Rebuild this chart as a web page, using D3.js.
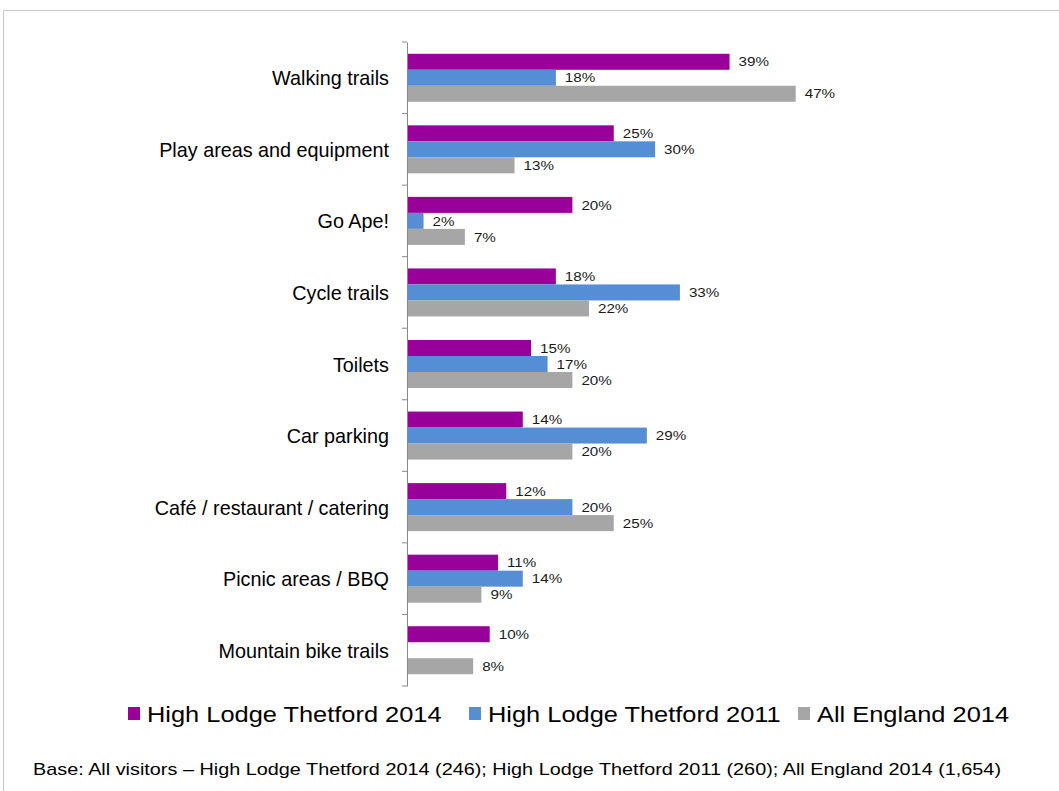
<!DOCTYPE html>
<html>
<head>
<meta charset="utf-8">
<script src="https://cdn.jsdelivr.net/npm/d3@7"></script>
<style>
  body { margin: 0; background: #fff; }
  svg { display: block; font-family: "Liberation Sans", Arial, sans-serif; }
</style>
</head>
<body>
<svg id="chart" width="1059" height="791"></svg>
<script>
// Facilities used by visitors, by survey
const categories = [
  "Walking trails",
  "Play areas and equipment",
  "Go Ape!",
  "Cycle trails",
  "Toilets",
  "Car parking",
  "Café / restaurant / catering",
  "Picnic areas / BBQ",
  "Mountain bike trails"
];
const seriesNames = ["High Lodge Thetford 2014", "High Lodge Thetford 2011", "All England 2014"];
const highLodge2014 = [39, 25, 20, 18, 15, 14, 12, 11, 10];
const highLodge2011 = [18, 30, 2, 33, 17, 29, 20, 14, null];
const allEngland2014 = [47, 13, 7, 22, 20, 20, 25, 9, 8];
const seriesColors = ["#990099", "#558ED5", "#A6A6A6"];
const footnote = "Base: All visitors \u2013 High Lodge Thetford 2014 (246); High Lodge Thetford 2011 (260); All England 2014 (1,654)";

const seriesValues = [highLodge2014, highLodge2011, allEngland2014];

const svg = d3.select("#chart");

// outer frame (top and left edges visible)
svg.append("path")
  .attr("d", "M3.5,791 V10.5 H1059")
  .attr("fill", "none")
  .attr("stroke", "#c8c8c8")
  .attr("stroke-width", 1);

const x0 = 407;
const x = d3.scaleLinear().domain([0, 50]).range([x0, x0 + 50 * 8.27]);

const y = d3.scaleBand().domain(categories).range([42, 686]).padding(0);
const groupH = 48;
const ySub = d3.scaleBand().domain(seriesNames).range([0, groupH]).padding(0);

const groups = svg.append("g").selectAll("g")
  .data(categories)
  .join("g")
  .attr("transform", d => `translate(0,${y(d) + (y.bandwidth() - groupH) / 2})`);

groups.each(function (cat, ci) {
  const g = d3.select(this);
  const rows = seriesNames.map((s, si) => ({ s, si, v: seriesValues[si][ci] }))
    .filter(r => r.v != null);
  g.selectAll("rect")
    .data(rows)
    .join("rect")
    .attr("x", x(0))
    .attr("y", r => ySub(r.s))
    .attr("width", r => x(r.v) - x(0))
    .attr("height", ySub.bandwidth())
    .attr("fill", r => seriesColors[r.si]);
  g.selectAll("text")
    .data(rows)
    .join("text")
    .attr("transform", r => `translate(${x(r.v) + 9},${ySub(r.s) + ySub.bandwidth() / 2}) scale(1.17,1)`)
    .attr("dy", "0.36em")
    .attr("font-size", 13)
    .attr("fill", "#1a1a1a")
    .text(r => r.v + "%");
});

// category axis
const axis = svg.append("g")
  .attr("transform", `translate(${x0},0)`)
  .call(d3.axisLeft(y).tickSize(0).tickPadding(18));
axis.select(".domain").attr("stroke", "#898989");
axis.selectAll("text")
  .attr("font-size", 19.8)
  .attr("dy", "0.38em")
  .attr("font-family", "Liberation Sans, Arial, sans-serif")
  .attr("fill", "#000");

// tick marks at category boundaries
const bounds = categories.map(c => y(c)).concat([y.range()[1]]);
svg.append("g").selectAll("line")
  .data(bounds)
  .join("line")
  .attr("x1", x0 - 5).attr("x2", x0)
  .attr("y1", d => d).attr("y2", d => d)
  .attr("stroke", "#898989");

// legend
const legendX = [128, 469, 798];
const legend = svg.append("g").selectAll("g")
  .data(seriesNames)
  .join("g")
  .attr("transform", (d, i) => `translate(${legendX[i]},714)`);
legend.append("rect")
  .attr("x", 0).attr("y", -7).attr("width", 12).attr("height", 13)
  .attr("fill", (d, i) => seriesColors[i]);
legend.append("text")
  .attr("transform", "translate(19,0) scale(1.155,1)")
  .attr("dy", "0.35em")
  .attr("font-size", 22)
  .attr("fill", "#000")
  .text(d => d);

// footnote
svg.append("text")
  .attr("transform", "translate(33,775) scale(1.24,1)")
  .attr("font-size", 16)
  .attr("fill", "#000")
  .text(footnote);
</script>
</body>
</html>
